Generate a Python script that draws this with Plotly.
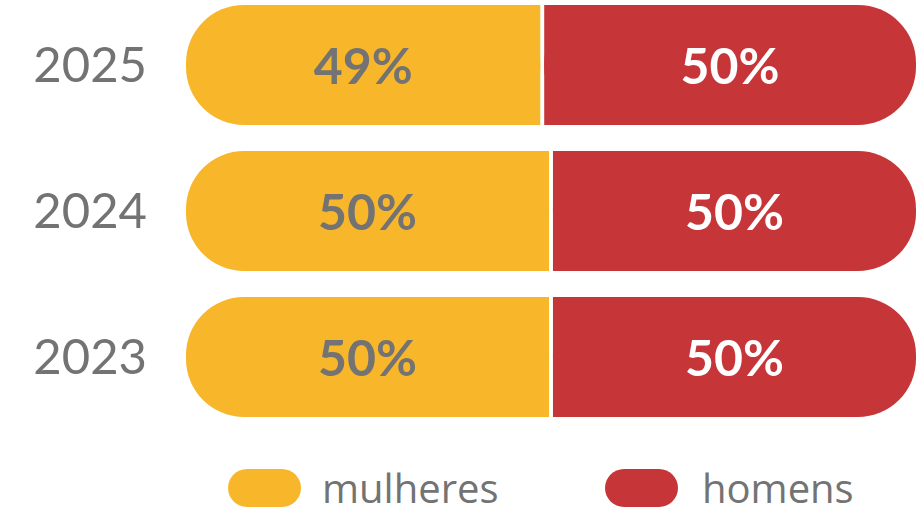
import plotly.graph_objects as go

years = ["2023", "2024", "2025"]
mulheres = [50.0, 50.0, 48.8]
homens = [50.0, 50.0, 51.2]
mulheres_labels = ["50%", "50%", "49%"]
homens_labels = ["50%", "50%", "50%"]
legend_names = ["mulheres", "homens"]

YELLOW = "#F8B62B"
RED = "#C63538"
GRAY = "#737373"
NUM_FONT = "Lato, 'Open Sans', sans-serif"
TXT_FONT = "'Open Sans', Lato, sans-serif"

GAP = 0.27       # half of the white split gap, in axis units
PATCH = 10       # squared-off segment length at the split, in axis units
BAR_W = 0.822
RADIUS = 58

total = [m + h for m, h in zip(mulheres, homens)]
split = mulheres

fig = go.Figure()

# mulheres pill (rounded both ends) + square patch at the split
fig.add_trace(go.Bar(
    y=years, x=[s - GAP for s in split], base=[0] * len(years), orientation="h",
    name=legend_names[0], width=BAR_W,
    marker=dict(color=YELLOW, line=dict(width=0), cornerradius=RADIUS),
    text=mulheres_labels, textposition="inside", insidetextanchor="middle", textangle=0,
    textfont=dict(family=NUM_FONT, size=50, color=GRAY, weight=700),
    hoverinfo="skip", showlegend=False,
))
fig.add_trace(go.Bar(
    y=years, x=[-PATCH] * len(years), base=[s - GAP for s in split], orientation="h",
    width=BAR_W, marker=dict(color=YELLOW, line=dict(width=0), cornerradius=0),
    hoverinfo="skip", showlegend=False,
))
# homens pill + square patch at the split
fig.add_trace(go.Bar(
    y=years, x=[t - s - GAP for t, s in zip(total, split)], base=[s + GAP for s in split],
    orientation="h", name=legend_names[1], width=BAR_W,
    marker=dict(color=RED, line=dict(width=0), cornerradius=RADIUS),
    text=homens_labels, textposition="inside", insidetextanchor="middle", textangle=0,
    textfont=dict(family=NUM_FONT, size=50, color="white", weight=700),
    hoverinfo="skip", showlegend=False,
))
fig.add_trace(go.Bar(
    y=years, x=[PATCH] * len(years), base=[s + GAP for s in split], orientation="h",
    width=BAR_W, marker=dict(color=RED, line=dict(width=0), cornerradius=0),
    hoverinfo="skip", showlegend=False,
))

# custom pill-shaped legend
def pill(w, h):
    r = h / 2
    k = r * 0.5523
    return (f"M {-w/2 + r},{-h/2} L {w/2 - r},{-h/2} "
            f"C {w/2 - r + k},{-h/2} {w/2},{-k} {w/2},0 "
            f"C {w/2},{k} {w/2 - r + k},{h/2} {w/2 - r},{h/2} "
            f"L {-w/2 + r},{h/2} "
            f"C {-w/2 + r - k},{h/2} {-w/2},{k} {-w/2},0 "
            f"C {-w/2},{-k} {-w/2 + r - k},{-h/2} {-w/2 + r},{-h/2} Z")

shapes = []
annotations = []
legend_x = [(264.5 - 186) / 730, (641.5 - 186) / 730]
legend_colors = [YELLOW, RED]
ly = (430 - 488) / 430
for name, lx, col, dx in zip(legend_names, legend_x, legend_colors, [55, 58]):
    shapes.append(dict(type="path", xref="paper", yref="paper",
                       xsizemode="pixel", ysizemode="pixel",
                       xanchor=lx, yanchor=ly, path=pill(73, 38),
                       fillcolor=col, line=dict(width=0)))
    annotations.append(dict(xref="paper", yref="paper", x=lx, y=ly,
                            xshift=dx, text=name, showarrow=False,
                            xanchor="left", yanchor="middle",
                            font=dict(family=TXT_FONT, size=40, color=GRAY)))

fig.update_layout(
    width=923, height=520,
    margin=dict(l=186, r=7, t=0, b=90),
    paper_bgcolor="white", plot_bgcolor="white",
    barmode="overlay",
    xaxis=dict(range=[0, 100], visible=False, fixedrange=True),
    yaxis=dict(type="category", categoryorder="array", categoryarray=years,
               range=[-0.5, 2.445], showgrid=False, zeroline=False, showline=False,
               ticks="", ticklabelstandoff=38, fixedrange=True,
               tickfont=dict(family=NUM_FONT, size=49, color=GRAY)),
    shapes=shapes, annotations=annotations,
    showlegend=False,
)

fig.write_html("out.html", config={"displayModeBar": False},
               post_script="document.body.style.margin='0';document.body.style.padding='0';")
